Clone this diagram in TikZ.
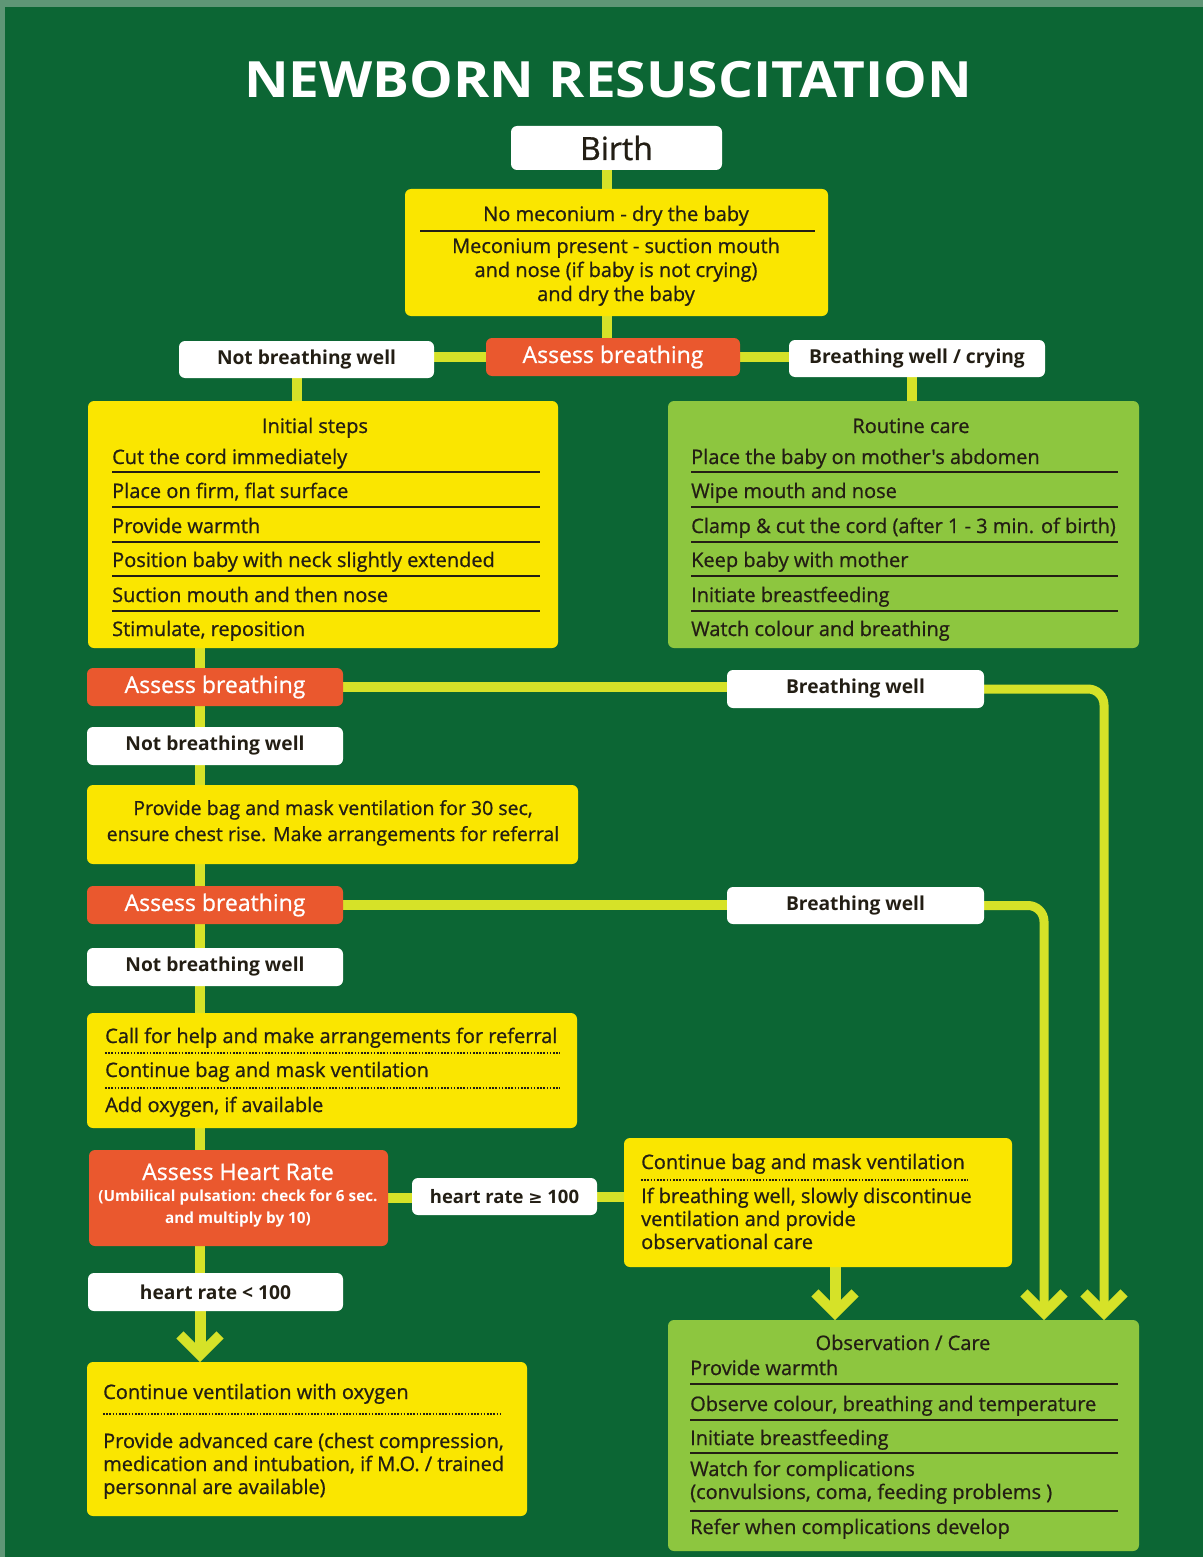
\documentclass[tikz,border=0pt]{standalone}
\usepackage{fontspec}
\setmainfont{Open Sans}
\newfontfamily\bodyf{Open Sans}[FakeBold=0.8]
\newfontfamily\symf{DejaVu Sans}
\usetikzlibrary{arrows.meta,calc}
\definecolor{bgG}{RGB}{12,102,52}
\definecolor{edgeG}{RGB}{95,150,118}
\definecolor{yel}{RGB}{250,230,0}
\definecolor{lime}{RGB}{214,226,40}
\definecolor{orng}{RGB}{234,88,46}
\definecolor{lgrn}{RGB}{141,198,63}
\definecolor{txt}{RGB}{35,30,20}
\pgfdeclarelayer{back}\pgfdeclarelayer{wires}\pgfsetlayers{back,wires,main}
\begin{document}
\begin{tikzpicture}[x=1pt,y=-1pt,
  box/.style={rounded corners=6pt,inner sep=0pt,outer sep=0pt},
  ybox/.style={box,fill=yel},
  gbox/.style={box,fill=lgrn},
  obox/.style={box,fill=orng,text=white,font=\bodyf\fontsize{23}{25}\selectfont},
  wbox/.style={box,fill=white,text=txt,font=\bfseries\fontsize{19.2}{21}\selectfont},
  tl/.style={anchor=base west,inner sep=0pt,text=txt,font=\bodyf\fontsize{20}{22}\selectfont},
  tc/.style={anchor=base,inner sep=0pt,text=txt,font=\bodyf\fontsize{20}{22}\selectfont},
  sep/.style={draw=txt,line width=2pt},
  dots/.style={draw=txt,line width=1.6pt,dash pattern=on 1.6pt off 1.6pt},
  conn/.style={draw=lime,line width=10pt},
  chev/.style={-{Straight Barb[length=20pt,width=40pt,line width=10pt]}}
]
\useasboundingbox (0,0) rectangle (1203,1557);
\begin{pgfonlayer}{back}
\fill[bgG] (0,0) rectangle (1203,1557);
\fill[edgeG] (0,0) rectangle (1203,7);
\fill[edgeG] (0,0) rectangle (5,1557);
\end{pgfonlayer}

% title
\node[text=white,font=\bfseries\fontsize{50}{54}\selectfont,inner sep=0pt] (title) at (608,80) {\scalebox{1.1}[1]{NEWBORN RESUSCITATION}};

% boxes
\node[box,fill=white,text=txt,minimum width=211pt,minimum height=44pt,font=\bodyf\fontsize{32}{34}\selectfont] (birth) at (616.5,148) {Birth};
\node[ybox,minimum width=423pt,minimum height=127pt] (mec) at (616.5,252.5) {};
\node[obox,minimum width=254pt,minimum height=38pt] (ab1) at (613,357) {Assess breathing};
\node[wbox,minimum width=255pt,minimum height=37pt] (nbw1) at (306.5,359.5) {Not breathing well};
\node[wbox,minimum width=256pt,minimum height=37pt] (bwc) at (917,358.5) {Breathing well / crying};
\node[ybox,minimum width=470pt,minimum height=247pt] (init) at (323,524.5) {};
\node[gbox,minimum width=471pt,minimum height=247pt] (rout) at (903.5,524.5) {};
\node[obox,minimum width=256pt,minimum height=38pt] (ab2) at (215,687) {Assess breathing};
\node[wbox,minimum width=257pt,minimum height=38pt] (bw2) at (855.5,689) {Breathing well};
\node[wbox,minimum width=256pt,minimum height=38pt] (nbw2) at (215,746) {Not breathing well};
\node[ybox,minimum width=491pt,minimum height=79pt] (bag) at (332.5,824.5) {};
\node[obox,minimum width=256pt,minimum height=38pt] (ab3) at (215,905) {Assess breathing};
\node[wbox,minimum width=257pt,minimum height=37pt] (bw3) at (855.5,905.5) {Breathing well};
\node[wbox,minimum width=256pt,minimum height=38pt] (nbw3) at (215,967) {Not breathing well};
\node[ybox,minimum width=490pt,minimum height=115pt] (call) at (332,1070.5) {};
\node[box,fill=orng,minimum width=299pt,minimum height=96pt] (ahr) at (238.5,1198) {};
\node[wbox,minimum width=185pt,minimum height=37pt,font=\bfseries\fontsize{18.5}{20}\selectfont] (hr1) at (504.5,1196.5) {heart rate {\symf\fontsize{17}{18}\selectfont ≥} 100};
\node[ybox,minimum width=388pt,minimum height=129pt] (cont) at (818,1202.5) {};
\node[wbox,minimum width=255pt,minimum height=38pt] (hr2) at (215.5,1292) {heart rate < 100};
\node[ybox,minimum width=440pt,minimum height=154pt] (cvo) at (307,1439) {};
\node[gbox,minimum width=471pt,minimum height=231pt] (obs) at (903.5,1435.5) {};

% meconium text
\node[tc] (m1) at (616,221) {No meconium - dry the baby};
\draw[sep] (420,231) -- (815,231);
\node[tc] (m2) at (616,253) {Meconium present - suction mouth};
\node[tc] (m3) at (616,277) {and nose (if baby is not crying)};
\node[tc] (m4) at (616,301) {and dry the baby};

% initial steps
\node[tc] (i0) at (315,433) {Initial steps};
\node[tl] (i1) at (112,464) {Cut the cord immediately};
\node[tl] (i2) at (112,498) {Place on firm,  flat surface};
\node[tl] (i3) at (112,533) {Provide warmth};
\node[tl] (i4) at (112,567) {Position baby with neck slightly extended};
\node[tl] (i5) at (112,602) {Suction mouth and then nose};
\node[tl] (i6) at (112,636) {Stimulate, reposition};
\foreach \yy in {472,507,542,576,611}{\draw[sep] (112,\yy) -- (540,\yy);}

% routine care
\node[tc] (r0) at (911,433) {Routine care};
\node[tl] (r1) at (691,464) {Place the baby on mother's abdomen};
\node[tl] (r2) at (691,498) {Wipe mouth and nose};
\node[tl] (r3) at (691,533) {Clamp \& cut the cord (after 1 - 3 min. of birth)};
\node[tl] (r4) at (691,567) {Keep baby with mother};
\node[tl] (r5) at (691,602) {Initiate breastfeeding};
\node[tl] (r6) at (691,636) {Watch colour and breathing};
\foreach \yy in {472,507,542,576,611}{\draw[sep] (691,\yy) -- (1118,\yy);}

% bag
\node[tc,font=\bodyf\fontsize{19.5}{21}\selectfont] (b1) at (333,815) {Provide bag and mask ventilation for 30 sec,};
\node[tc,font=\bodyf\fontsize{19.5}{21}\selectfont] (b2) at (333,841) {ensure chest rise. Make arrangements for referral};

% call
\node[tl] (c1) at (105,1043) {Call for help and make arrangements for referral};
\node[tl] (c2) at (105,1077) {Continue bag and mask ventilation};
\node[tl] (c3) at (105,1112) {Add oxygen, if available};
\draw[dots] (105,1053) -- (560,1053);
\draw[dots] (105,1088) -- (560,1088);

% assess heart rate
\node[anchor=base,inner sep=0pt,text=white,font=\bodyf\fontsize{23}{25}\selectfont] (h1) at (238,1180) {Assess Heart Rate};
\node[anchor=base,inner sep=0pt,text=white,font=\bfseries\fontsize{15.3}{17}\selectfont] (h2) at (238,1201) {(Umbilical pulsation: check for 6 sec.};
\node[anchor=base,inner sep=0pt,text=white,font=\bfseries\fontsize{15.3}{17}\selectfont] (h3) at (238,1223) {and multiply by 10)};

% continue
\node[tl] (k1) at (641,1169) {Continue bag and mask ventilation};
\draw[dots] (641,1180) -- (968,1180);
\node[tl] (k2) at (641,1203) {If breathing well, slowly discontinue};
\node[tl] (k3) at (641,1226) {ventilation and provide};
\node[tl] (k4) at (641,1249) {observational care};

% continue ventilation with oxygen
\node[tl] (v1) at (103,1399) {Continue ventilation with oxygen};
\draw[dots] (103,1414) -- (500,1414);
\node[tl] (v2) at (103,1448) {Provide advanced care (chest compression,};
\node[tl] (v3) at (103,1471) {medication and intubation, if M.O. / trained};
\node[tl] (v4) at (103,1494) {personnal are available)};

% observation
\node[tc] (o0) at (903,1350) {Observation / Care};
\node[tl] (o1) at (690,1375) {Provide warmth};
\node[tl] (o2) at (690,1411) {Observe colour, breathing and temperature};
\node[tl] (o3) at (690,1445) {Initiate breastfeeding};
\node[tl] (o4) at (690,1476) {Watch for complications};
\node[tl] (o5) at (690,1499) {(convulsions, coma, feeding problems )};
\node[tl] (o6) at (690,1534) {Refer when complications develop};
\foreach \yy in {1384,1420,1453,1511}{\draw[sep] (690,\yy) -- (1118,\yy);}

% connector x positions
\coordinate (xa) at (607,0);
\coordinate (xl) at (297,0);
\coordinate (xr) at (912,0);
\coordinate (xt) at (200,0);
\coordinate (xc) at (835,0);
\coordinate (xr1) at (1104,0);
\coordinate (xr2) at (1044,0);

\begin{pgfonlayer}{wires}
\draw[conn] (birth.south -| xa) -- (mec.north -| xa);
\draw[conn] (mec.south -| xa) -- (ab1.north -| xa);
\draw[conn] (ab1.west) -- (ab1.west -| nbw1.east);
\draw[conn] (ab1.east) -- (ab1.east -| bwc.west);
\draw[conn] (nbw1.south -| xl) -- (init.north -| xl);
\draw[conn] (bwc.south -| xr) -- (rout.north -| xr);
\draw[conn] (init.south -| xt) -- (ab2.north -| xt);
\draw[conn] (ab2.south -| xt) -- (nbw2.north -| xt);
\draw[conn] (nbw2.south -| xt) -- (bag.north -| xt);
\draw[conn] (bag.south -| xt) -- (ab3.north -| xt);
\draw[conn] (ab3.south -| xt) -- (nbw3.north -| xt);
\draw[conn] (nbw3.south -| xt) -- (call.north -| xt);
\draw[conn] (call.south -| xt) -- (ahr.north -| xt);
\draw[conn] (ahr.south -| xt) -- (hr2.north -| xt);
\draw[conn] (ab2.east) -- (ab2.east -| bw2.west);
\draw[conn] (ab3.east) -- (ab3.east -| bw3.west);
\draw[conn] (ahr.east) -- (ahr.east -| hr1.west);
\draw[conn] (hr1.east) -- (hr1.east -| cont.west);
\draw[conn,line width=9pt,rounded corners=16pt,chev] (bw2.east) -- (bw2.east -| xr1) -- (obs.north -| xr1);
\draw[conn,line width=9pt,rounded corners=16pt,chev] (bw3.east) -- (bw3.east -| xr2) -- (obs.north -| xr2);
\draw[conn,line width=11pt,chev] (cont.south -| xc) -- (obs.north -| xc);
\draw[conn,line width=11pt,chev] (hr2.south -| xt) -- (cvo.north -| xt);
\end{pgfonlayer}
\end{tikzpicture}
\end{document}
